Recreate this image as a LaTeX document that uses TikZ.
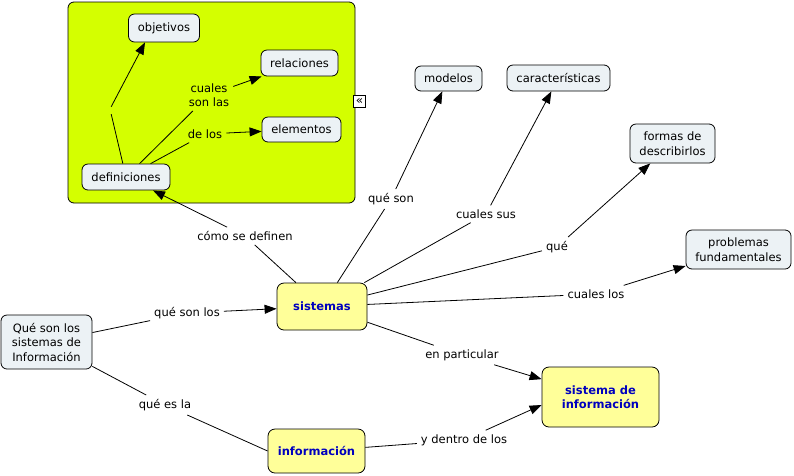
\documentclass[tikz,border=0pt]{standalone}
\usepackage{fontspec}
\setmainfont{DejaVu Sans}
\usetikzlibrary{arrows.meta}
\definecolor{panel}{RGB}{212,255,0}
\definecolor{conceptfill}{RGB}{236,242,245}
\definecolor{yel}{RGB}{255,255,153}
\definecolor{navy}{RGB}{0,0,190}
\begin{document}
\begin{tikzpicture}[x=1pt,y=-1pt,
 every node/.style={font=\fontsize{11.5}{14.5}\selectfont},
 concept/.style={draw=black, line width=0.8pt, rounded corners=6pt, fill=conceptfill, align=center, inner sep=0pt},
 mainc/.style={draw=black, line width=0.8pt, rounded corners=7pt, fill=yel, align=center, inner sep=0pt, text=navy, font=\bfseries\fontsize{11.5}{14.5}\selectfont},
 lbl/.style={align=center, inner sep=4pt},
 link/.style={draw, line width=0.8pt},
 arr/.style={link, -{Triangle[length=12pt,width=9pt]}}
]
\useasboundingbox (0,0) rectangle (794,475);
\filldraw[fill=panel, line width=0.8pt, rounded corners=6pt] (68,2) rectangle (355,203);

% concepts
\node[concept, minimum width=71, minimum height=28] (obj) at (164,28) {objetivos};
\node[concept, minimum width=77, minimum height=26] (rel) at (299.5,63) {relaciones};
\node[concept, minimum width=79, minimum height=25] (ele) at (301.5,129.5) {elementos};
\node[concept, minimum width=88, minimum height=26] (def) at (126,177) {definiciones};
\node[concept, minimum width=67, minimum height=25] (mod) at (448.5,78.5) {modelos};
\node[concept, minimum width=103, minimum height=26] (car) at (558.5,78) {características};
\node[concept, minimum width=85, minimum height=39] (for) at (672.5,143.5) {formas de\\describirlos};
\node[concept, minimum width=105, minimum height=39] (pro) at (738.5,249.5) {problemas\\fundamentales};
\node[concept, minimum width=91, minimum height=54] (que) at (46.5,342) {Qué son los\\sistemas de\\Información};
\node[mainc, minimum width=90, minimum height=47] (sis) at (322,306.5) {sistemas};
\node[mainc, minimum width=97, minimum height=44] (inf) at (316.5,451) {información};
\node[mainc, minimum width=117, minimum height=60] (sin) at (600.5,397) {sistema de\\información};

% collapse icon
\node[draw=black, fill=white, line width=0.7pt, minimum size=12pt, inner sep=0pt, font=\fontsize{12}{12}\selectfont] (icon) at (359.5,101) {«};

% linking phrases
\node[lbl, minimum height=18, minimum width=2, inner sep=0pt] (l0) at (110,109) {};
\node[lbl] (l1) at (209,95) {cuales\\son las};
\node[lbl] (l2) at (205,134) {de los};
\node[lbl] (l3) at (245,236) {cómo se definen};
\node[lbl] (l4) at (391,199) {qué son};
\node[lbl] (l5) at (486,214) {cuales sus};
\node[lbl] (l6) at (557,247) {qué};
\node[lbl] (l7) at (596,294) {cuales los};
\node[lbl] (l8) at (187,313) {qué son los};
\node[lbl] (l9) at (165,405) {qué es la};
\node[lbl] (l10) at (462,355) {en particular};
\node[lbl] (l11) at (464,440) {y dentro de los};

% connectors
\draw[link] (def) -- (l0);
\draw[arr] (l0) -- ([xshift=-19pt]obj.south);
\draw[link] (def) -- (l1);
\draw[arr] (l1) -- (rel);
\draw[link] (def) -- (l2);
\draw[arr] (l2) -- (ele);
\draw[link] (sis) -- (l3);
\draw[arr] (l3) -- (def);
\draw[link] (sis) -- (l4);
\draw[arr] (l4) -- (mod);
\draw[link] (sis) -- (l5);
\draw[arr] (l5) -- (car);
\draw[link] (sis) -- (l6);
\draw[arr] (l6) -- (for);
\draw[link] (sis) -- (l7);
\draw[arr] (l7) -- (pro);
\draw[link] (que) -- (l8);
\draw[arr] (l8) -- (sis);
\draw[link] (que) -- (l9);
\draw[link] (l9) -- (inf.west);
\draw[link] (sis) -- (l10);
\draw[arr] (l10) -- (sin);
\draw[link] (inf) -- (l11);
\draw[arr] (l11) -- ([yshift=-8pt]sin.west);
\end{tikzpicture}
\end{document}
